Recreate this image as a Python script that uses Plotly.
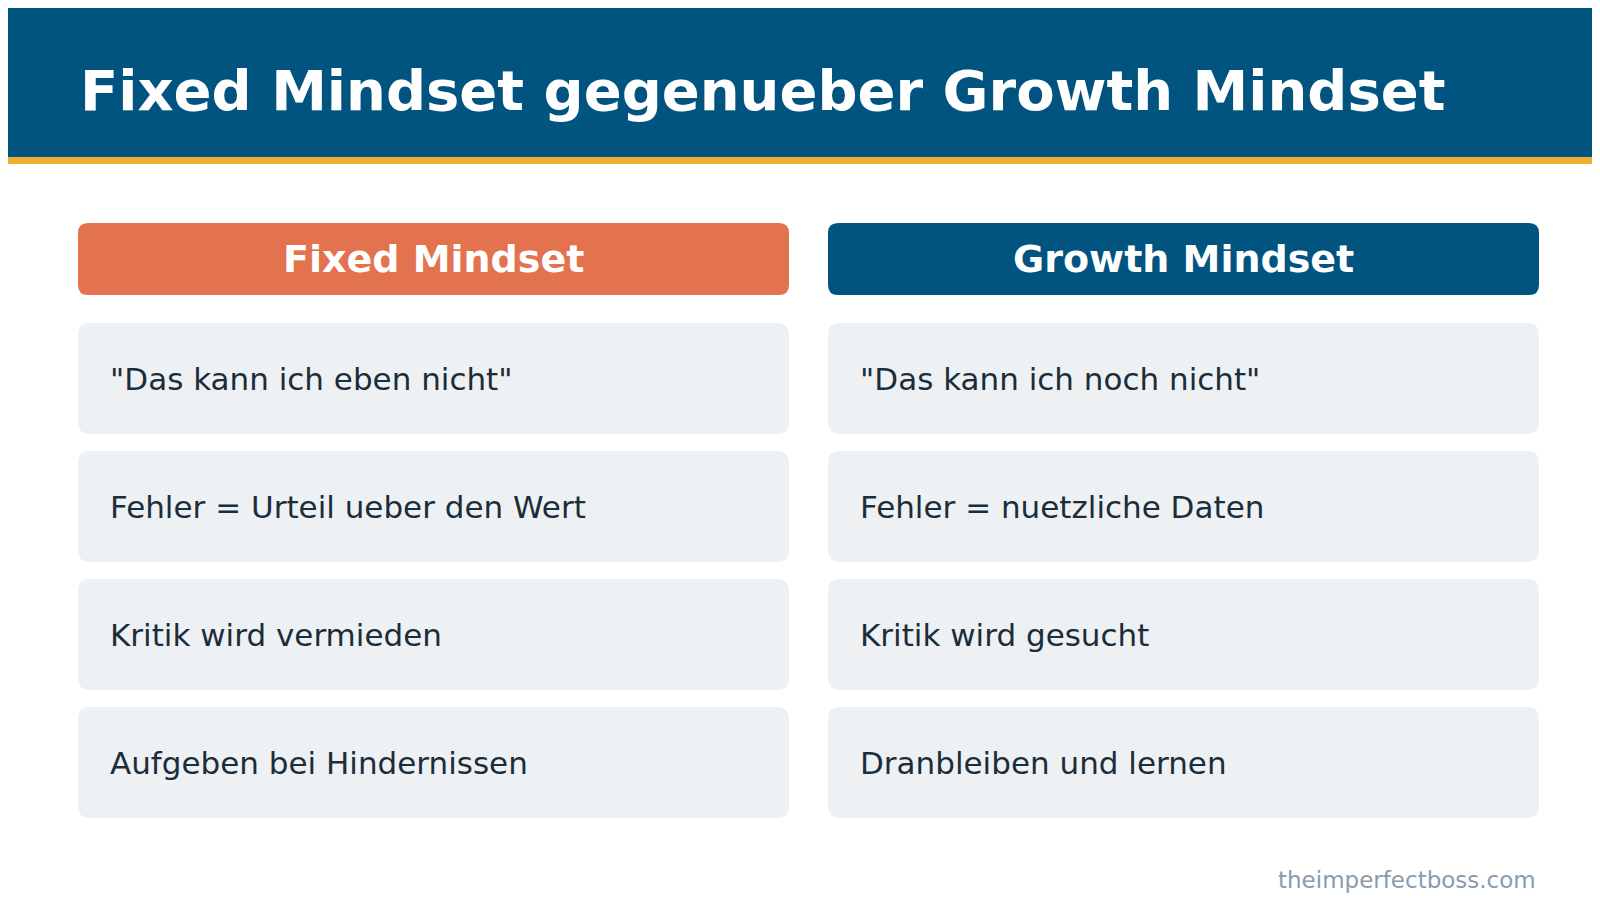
import plotly.graph_objects as go

TITLE = "Fixed Mindset gegenueber Growth Mindset"
COLUMN_HEADERS = ["Fixed Mindset", "Growth Mindset"]
FIXED_ITEMS = [
    '"Das kann ich eben nicht"',
    "Fehler = Urteil ueber den Wert",
    "Kritik wird vermieden",
    "Aufgeben bei Hindernissen",
]
GROWTH_ITEMS = [
    '"Das kann ich noch nicht"',
    "Fehler = nuetzliche Daten",
    "Kritik wird gesucht",
    "Dranbleiben und lernen",
]
FOOTER = "theimperfectboss.com"

W, H = 1600, 900
NAVY = "#01547F"
ORANGE = "#E2734E"
GOLD = "#F0AD2E"
CELL = "#EEF1F4"
INK = "#1C2D3A"
FONT = "DejaVu Sans"


def rounded(x0, y0, x1, y1, r, color):
    path = (f"M{x0+r},{y0} L{x1-r},{y0} Q{x1},{y0} {x1},{y0+r} "
            f"L{x1},{y1-r} Q{x1},{y1} {x1-r},{y1} L{x0+r},{y1} "
            f"Q{x0},{y1} {x0},{y1-r} L{x0},{y0+r} Q{x0},{y0} {x0+r},{y0} Z")
    return dict(type="path", path=path, xref="x", yref="y",
                fillcolor=color, line=dict(width=0), layer="below")


fig = go.Figure()
shapes = [
    dict(type="rect", x0=0, y0=0, x1=W, y1=149, xref="x", yref="y",
         fillcolor=NAVY, line=dict(width=0), layer="below"),
    dict(type="rect", x0=0, y0=149, x1=W, y1=156, xref="x", yref="y",
         fillcolor=GOLD, line=dict(width=0), layer="below"),
]
annotations = [
    dict(x=70, y=82, text=f"<b>{TITLE}</b>", showarrow=False, xanchor="left",
         yanchor="middle", font=dict(family=FONT, size=56, color="white")),
    dict(x=1530, y=872, text=FOOTER, showarrow=False, xanchor="right",
         yanchor="middle", font=dict(family=FONT, size=23, color="#8A9BAA")),
]

col_x = [(70, 781), (820, 1531)]
header_colors = [ORANGE, NAVY]
row_y = [(315, 426), (443, 554), (571, 682), (699, 810)]

for (x0, x1), head, hcol, items in zip(col_x, COLUMN_HEADERS, header_colors,
                                        [FIXED_ITEMS, GROWTH_ITEMS]):
    shapes.append(rounded(x0, 215, x1, 287, 10, hcol))
    annotations.append(dict(x=(x0 + x1) / 2, y=251, text=f"<b>{head}</b>",
                            showarrow=False, xanchor="center", yanchor="middle",
                            font=dict(family=FONT, size=38, color="white")))
    for (y0, y1), item in zip(row_y, items):
        shapes.append(rounded(x0, y0, x1, y1, 12, CELL))
        annotations.append(dict(x=x0 + 30, y=(y0 + y1) / 2, text=item,
                                showarrow=False, xanchor="left", yanchor="middle",
                                font=dict(family=FONT, size=31, color=INK)))

fig.update_layout(
    width=W, height=H, margin=dict(l=0, r=0, t=0, b=0),
    paper_bgcolor="white", plot_bgcolor="white",
    xaxis=dict(range=[0, W], visible=False, fixedrange=True),
    yaxis=dict(range=[H, 0], visible=False, fixedrange=True),
    shapes=shapes, annotations=annotations, showlegend=False,
)

fig.write_html("out.html", config={"displayModeBar": False})
